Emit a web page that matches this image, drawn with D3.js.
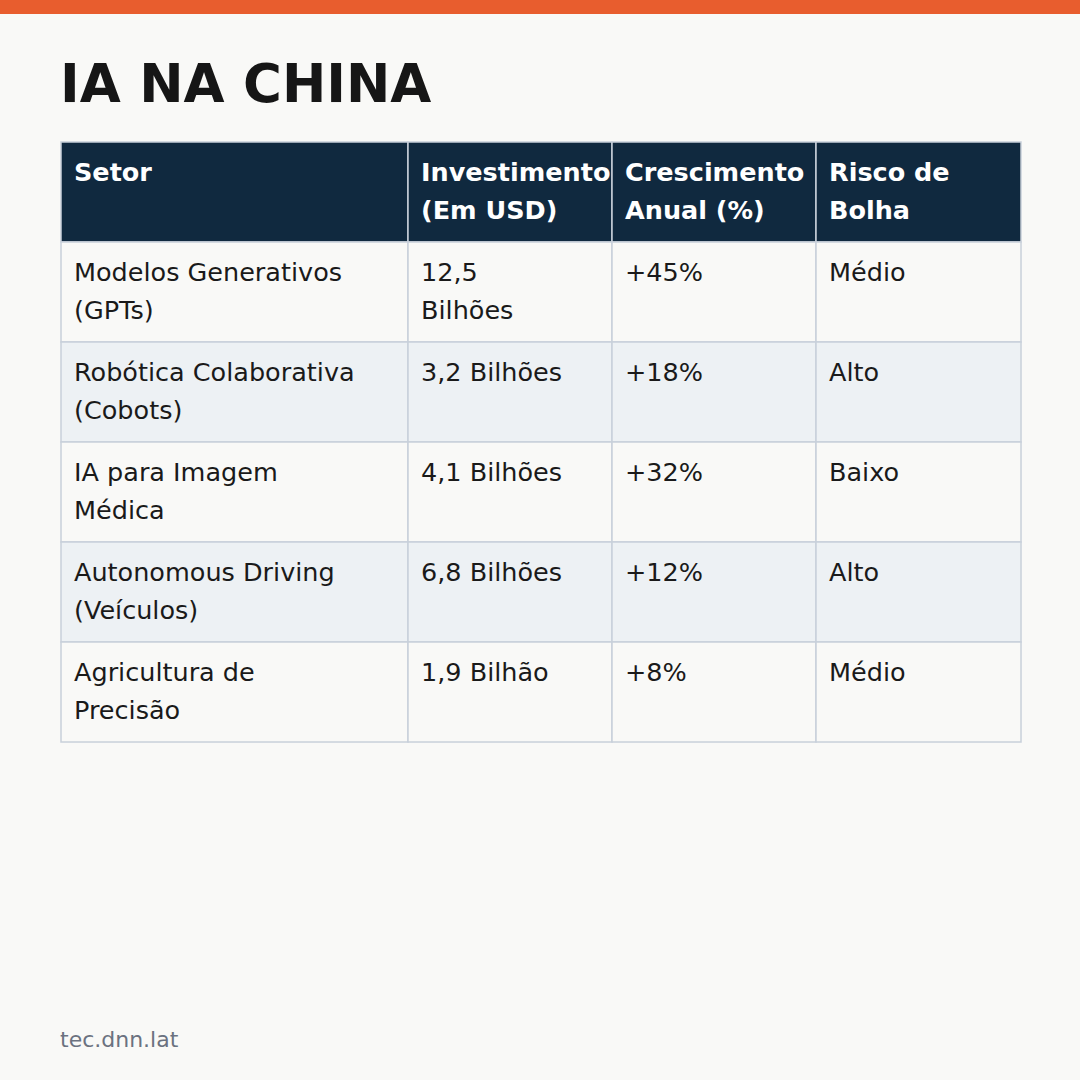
<!DOCTYPE html>
<html><head><meta charset="utf-8">
<script src="https://cdn.jsdelivr.net/npm/d3@7"></script>
<style>body{margin:0;background:#F9F9F7;}svg{display:block}</style>
</head><body>
<script>
const headers = ["Setor", "Investimento\n(Em USD)", "Crescimento\nAnual (%)", "Risco de\nBolha"];
const setores = ["Modelos Generativos\n(GPTs)", "Robótica Colaborativa\n(Cobots)", "IA para Imagem\nMédica", "Autonomous Driving\n(Veículos)", "Agricultura de\nPrecisão"];
const investimento = ["12,5\nBilhões", "3,2 Bilhões", "4,1 Bilhões", "6,8 Bilhões", "1,9 Bilhão"];
const crescimento = ["+45%", "+18%", "+32%", "+12%", "+8%"];
const risco = ["Médio", "Alto", "Baixo", "Alto", "Médio"];

const W = 1080, H = 1080;
const svg = d3.select("body").append("svg").attr("width", W).attr("height", H);
svg.append("rect").attr("width", W).attr("height", H).attr("fill", "#F9F9F7");
svg.append("rect").attr("width", W).attr("height", 14).attr("fill", "#E85D2E");
svg.append("text").attr("x", 60).attr("y", 102).text("IA NA CHINA")
  .attr("font-family", "DejaVu Sans").attr("font-weight", "bold").attr("font-size", 53).attr("fill", "#161616");

const colEdges = [61, 408, 612, 816, 1021];
const rows = setores.map((s, i) => [s, investimento[i], crescimento[i], risco[i]]);
const y = d3.scaleBand().domain(d3.range(rows.length + 1)).range([142, 742]);
const font = "DejaVu Sans";

function cell(g, x0, x1, y0, txt, fill, color, bold) {
  g.append("rect").attr("x", x0).attr("y", y0).attr("width", x1 - x0).attr("height", y.bandwidth())
    .attr("fill", fill).attr("stroke", fill === "#10293F" ? "#C8D0DA" : "#C8D0DA").attr("stroke-width", 1.5);
  const t = g.append("text").attr("font-family", font).attr("font-size", 25.5).attr("fill", color)
    .attr("font-weight", bold ? "bold" : "normal");
  txt.split("\n").forEach((l, k) => t.append("tspan").attr("x", x0 + 13).attr("y", y0 + 39 + k * 38).text(l));
}
const g = svg.append("g");
const allRows = [headers, ...rows];
allRows.forEach((r, i) => {
  const fill = i === 0 ? "#10293F" : (i % 2 === 0 ? "#EDF1F4" : "#F9F9F7");
  const color = i === 0 ? "#FFFFFF" : "#1A1A1A";
  r.forEach((v, j) => {
    cell(g, colEdges[j], colEdges[j + 1], y(i), v, fill, color, i === 0);
  });
});
// redraw header texts on top for overflow
svg.append("text").attr("x", 60).attr("y", 1047).text("tec.dnn.lat")
  .attr("font-family", font).attr("font-size", 22).attr("fill", "#6B7280");
</script>
</body></html>
